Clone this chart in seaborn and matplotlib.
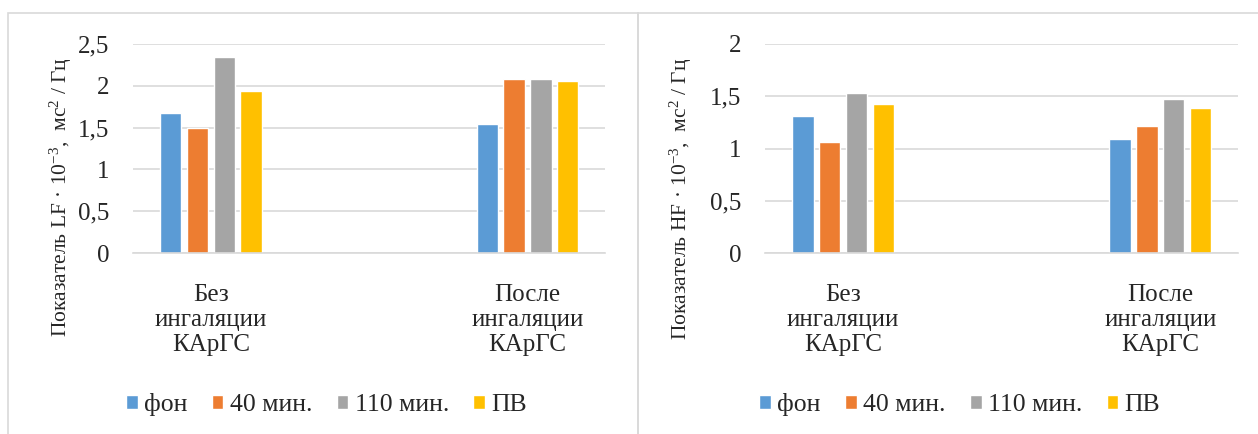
import pandas as pd
import numpy as np
import matplotlib.pyplot as plt
import seaborn as sns
from matplotlib.patches import Rectangle

# ── Data ───────────────────────────────────────────────────────────────────────
groups = ['Без\nингаляции\nКАрГС', 'После\nингаляции\nКАрГС']
periods = ['фон', '40 мин.', '110 мин.', 'ПВ']
colors = ['#5B9BD5', '#ED7D31', '#A5A5A5', '#FFC000']

lf_before = [1.67, 1.50, 2.35, 1.94]
lf_after = [1.54, 2.08, 2.08, 2.06]
hf_before = [1.31, 1.06, 1.53, 1.43]
hf_after = [1.09, 1.22, 1.47, 1.39]

lf_ticks = [0, 0.5, 1, 1.5, 2, 2.5]
lf_ticklabels = ['0', '0,5', '1', '1,5', '2', '2,5']
hf_ticks = [0, 0.5, 1, 1.5, 2]
hf_ticklabels = ['0', '0,5', '1', '1,5', '2']

lf_label = 'Показатель LF · 10$^{-3}$,  мс$^{2}$ / Гц'
hf_label = 'Показатель HF · 10$^{-3}$,  мс$^{2}$ / Гц'


def to_frame(before, after):
    rows = []
    for g, vals in zip(groups, [before, after]):
        for p, v in zip(periods, vals):
            rows.append({'group': g, 'period': p, 'value': v})
    return pd.DataFrame(rows)


# ── Style ──────────────────────────────────────────────────────────────────────
sns.set_style('white')
plt.rcParams['font.family'] = ['Liberation Serif', 'DejaVu Serif']
plt.rcParams['mathtext.fontset'] = 'custom'
plt.rcParams['mathtext.rm'] = 'Liberation Serif'
plt.rcParams['mathtext.it'] = 'Liberation Serif:italic'
plt.rcParams['text.color'] = '#262626'

fig = plt.figure(figsize=(12.58, 4.34), dpi=100)

# panel frames
for fx in [8, 638]:
    fig.add_artist(Rectangle((fx / 1258, -0.01), 630 / 1258, 1 - 13 / 434 + 0.01,
                             transform=fig.transFigure, fill=False,
                             edgecolor='#D9D9D9', linewidth=1.2))

panels = [
    (lf_before, lf_after, lf_ticks, lf_ticklabels, lf_label, 133, 472, -0.125, 0.268, 0.41),
    (hf_before, hf_after, hf_ticks, hf_ticklabels, hf_label, 765, 473, -0.150, 0.258, 0.412),
]

for before, after, ticks, ticklabels, ylabel, x0, w, lx, ly, legx in panels:
    ax = fig.add_axes([x0 / 1258, 181 / 434, w / 1258, 209 / 434])
    df = to_frame(before, after)
    sns.barplot(data=df, x='group', y='value', hue='period', hue_order=periods,
                palette=colors, width=0.338, gap=0.2, saturation=1,
                errorbar=None, ax=ax)
    ax.set_xlim(-0.246, 1.245)
    ax.set_ylim(0, ticks[-1])
    ax.set_yticks(ticks)
    ax.set_yticklabels(ticklabels, fontsize=18)
    ax.set_xticks([0, 1])
    ax.set_xticklabels(groups, fontsize=18, linespacing=1.18)
    ax.tick_params(axis='x', length=0, pad=22)
    ax.tick_params(axis='y', length=0, pad=17)
    ax.grid(axis='y', color='#D9D9D9', linewidth=1.2)
    ax.set_axisbelow(True)
    for side in ['top', 'right', 'left']:
        ax.spines[side].set_visible(False)
    ax.spines['bottom'].set_color('#D9D9D9')
    ax.spines['bottom'].set_linewidth(1.2)
    ax.set_xlabel('')
    ax.set_ylabel(ylabel, fontsize=15.5)
    ax.yaxis.set_label_coords(lx, ly)
    ax.legend(loc='center', bbox_to_anchor=(legx, -0.727), ncol=4, frameon=False,
              fontsize=18.5, handlelength=0.45, handleheight=0.45, handletextpad=0.25,
              columnspacing=0.95)

plt.savefig('out.png', dpi=100)
plt.close()
